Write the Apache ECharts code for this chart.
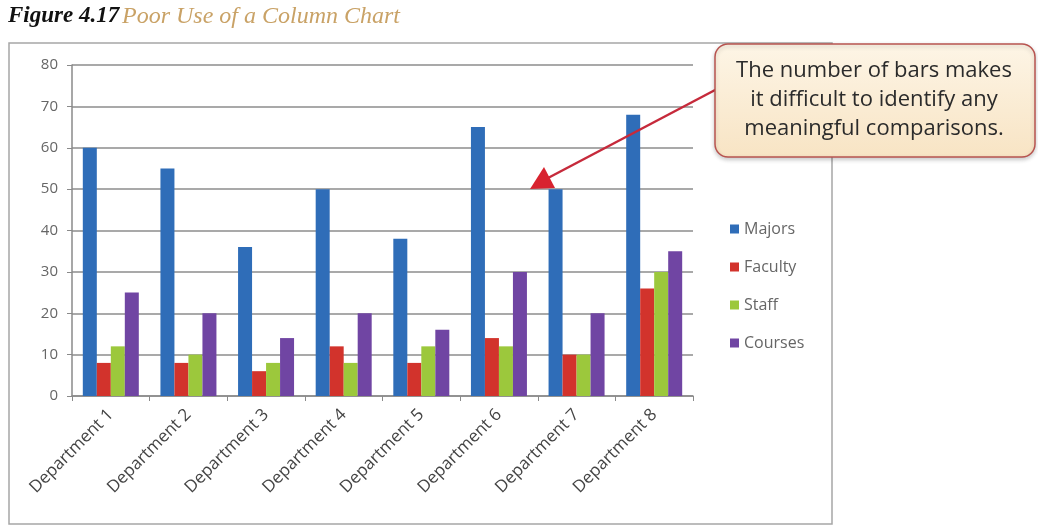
<!DOCTYPE html>
<html lang="en">
<head>
    <meta charset="UTF-8">
    <title>Poor Use of a Column Chart</title>
    <style>
        * { padding: 0; margin: 0; }
        html, body { height: 100%; width: 100%; background: #fff; }
        #chart { width: 1038px; height: 529px; }
    </style>
</head>
<body>
    <div id="chart"></div>
    <script src="https://cdn.jsdelivr.net/npm/echarts@6/dist/echarts.min.js"></script>
    <script>
        // chart data
        const departments = ['Department 1', 'Department 2', 'Department 3', 'Department 4',
            'Department 5', 'Department 6', 'Department 7', 'Department 8'];
        const majors = [60, 55, 36, 50, 38, 65, 50, 68];
        const faculty = [8, 8, 6, 12, 8, 14, 10, 26];
        const staff = [12, 10, 8, 8, 12, 12, 10, 30];
        const courses = [25, 20, 14, 20, 16, 30, 20, 35];
        const seriesNames = ['Majors', 'Faculty', 'Staff', 'Courses'];
        const colors = ['#2f6db8', '#d2332c', '#9cc83c', '#7045a3'];
        const calloutLines = ['The number of bars makes', 'it difficult to identify any', 'meaningful comparisons.'];

        const myChart = echarts.init(document.getElementById('chart'));

        const values = [majors, faculty, staff, courses];
        const series = seriesNames.map((name, i) => ({
            name: name,
            type: 'bar',
            data: values[i],
            barWidth: 14,
            barGap: '0%',
            itemStyle: { color: colors[i] }
        }));

        const option = {
            backgroundColor: '#fff',
            animation: false,
            color: colors,
            grid: { left: 72, top: 65, right: 345, bottom: 133 },
            legend: {
                orient: 'vertical',
                left: 725,
                top: 216,
                icon: 'rect',
                itemWidth: 9,
                itemHeight: 9,
                itemGap: 22,
                textStyle: { color: '#666', fontSize: 16, fontFamily: 'Open Sans' },
                data: seriesNames
            },
            xAxis: {
                type: 'category',
                data: departments,
                axisLine: { lineStyle: { color: '#8a8a8a', width: 1.5 } },
                axisTick: { show: true, alignWithLabel: false, length: 5, lineStyle: { color: '#8a8a8a' } },
                axisLabel: {
                    rotate: 45,
                    margin: 16,
                    color: '#444',
                    fontSize: 17,
                    fontFamily: 'Open Sans',
                    interval: 0
                }
            },
            yAxis: {
                type: 'value',
                min: 0,
                max: 80,
                interval: 10,
                axisLine: { show: true, lineStyle: { color: '#8a8a8a', width: 1.5 } },
                axisTick: { show: true, length: 5, lineStyle: { color: '#8a8a8a' } },
                axisLabel: { color: '#666', fontSize: 15, fontFamily: 'Open Sans', margin: 14 },
                splitLine: { lineStyle: { color: '#8c8c8c', width: 1.5 } }
            },
            graphic: [
                // outer chart frame
                { type: 'rect', shape: { x: 9, y: 43, width: 823, height: 481 },
                  style: { fill: 'none', stroke: '#a6a6a6', lineWidth: 1.5 }, z: -1 },
                // figure caption
                { type: 'text', left: 8, top: 5,
                  style: { text: 'Figure 4.17', fill: '#111', font: 'italic bold 23px "Liberation Serif"' } },
                { type: 'text', left: 122, top: 5,
                  style: { text: 'Poor Use of a Column Chart', fill: '#c9a266', font: 'italic 24px "Liberation Serif"' } },
                // arrow
                { type: 'line', shape: { x1: 717, y1: 89, x2: 548, y2: 178 },
                  style: { stroke: '#c62a3b', lineWidth: 2.5 }, z: 10 },
                { type: 'polygon', shape: { points: [[530, 189], [544, 167], [555, 188]] },
                  style: { fill: '#d8232f' }, z: 10 },
                // callout box
                { type: 'rect', shape: { x: 715, y: 44, width: 320, height: 113, r: 13 },
                  style: {
                      fill: new echarts.graphic.LinearGradient(0, 0, 0, 1, [
                          { offset: 0, color: '#fdf5e6' },
                          { offset: 1, color: '#f8e4c4' }
                      ]),
                      stroke: '#b85450', lineWidth: 1.5,
                      shadowBlur: 4, shadowColor: 'rgba(0,0,0,0.2)', shadowOffsetY: 2
                  }, z: 11 },
                { type: 'text', x: 874, y: 100, z: 12,
                  style: { text: calloutLines.join('\n'), fill: '#2b2b2b', align: 'center', verticalAlign: 'middle',
                           font: '22px "Open Sans"', lineHeight: 29 } }
            ],
            series: series
        };

        myChart.setOption(option);
    </script>
</body>
</html>
